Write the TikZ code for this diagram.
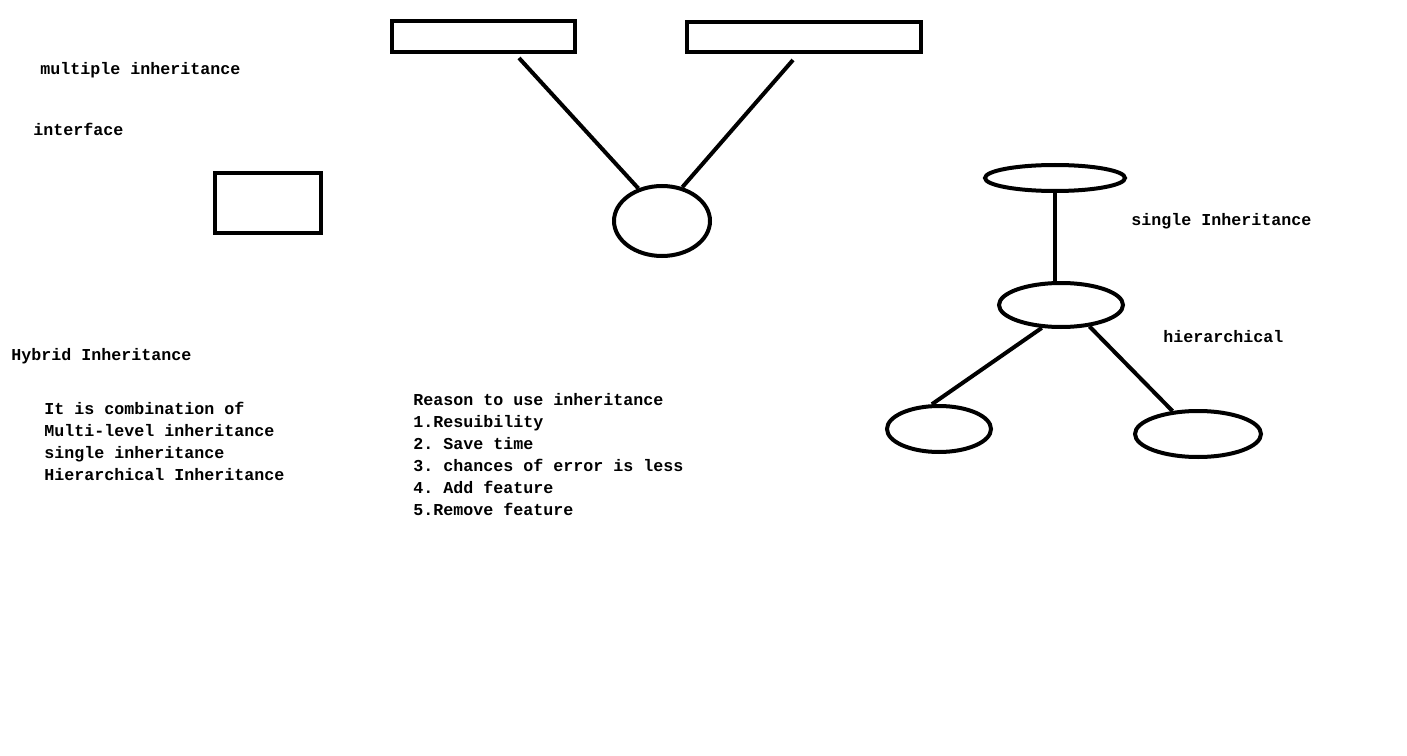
\documentclass[tikz,border=0pt]{standalone}
\usepackage{fontspec}
\setmonofont{Liberation Mono}
\usetikzlibrary{shapes.geometric}
\tikzset{
  shape line/.style={line width=3pt},
  box/.style={draw, shape line, rectangle, inner sep=0pt},
  oval/.style={draw, shape line, ellipse, inner sep=0pt},
  conn/.style={line width=3pt},
  label text/.style={anchor=base west, inner sep=0pt, font=\ttfamily\bfseries\fontsize{12.5}{16.5}\selectfont},
}
\begin{document}
\begin{tikzpicture}[x=0.75pt,y=-0.75pt]
\useasboundingbox[fill=white] (0,0) rectangle (1407,756);
% rectangles
\node[box, minimum width=183*0.75pt, minimum height=31*0.75pt] (r1) at (483.5,36.5) {};
\node[box, minimum width=234*0.75pt, minimum height=30*0.75pt] (r2) at (804,37) {};
\node[box, minimum width=106*0.75pt, minimum height=60*0.75pt] (r3) at (268,203) {};
% ellipses
\node[oval, minimum width=96*0.75pt, minimum height=70*0.75pt] (e1) at (662,221) {};
\node[oval, minimum width=140*0.75pt, minimum height=26*0.75pt] (t) at (1055,178) {};
\node[oval, minimum width=124*0.75pt, minimum height=44*0.75pt] (m) at (1061,305) {};
\node[oval, minimum width=104*0.75pt, minimum height=46*0.75pt] (bl) at (939,429) {};
\node[oval, minimum width=126*0.75pt, minimum height=46*0.75pt] (br) at (1198,434) {};
% connector ends
\coordinate (r1end) at (519,58);
\coordinate (r2end) at (793,60);
\draw[conn] (r1end) -- (e1.126);
\draw[conn] (r2end) -- (e1.59);
\draw[conn] (t.south) -- (t.south |- m.north);
\draw[conn] (m.-130) -- (bl.106);
\draw[conn] (m.-37) -- (br.138);
% texts
\node[label text] (t1) at (40,75) {multiple inheritance};
\node[label text] (t2) at (33,136) {interface};
\node[label text] (t3) at (1131,225) {single Inheritance};
\node[label text] (t4) at (1163,342) {hierarchical};
\node[label text] (t5) at (11,360) {Hybrid Inheritance};
\node[label text] (h1) at (44,414) {It is combination of};
\node[label text] (h2) at (44,436) {Multi-level inheritance};
\node[label text] (h3) at (44,458) {single inheritance};
\node[label text] (h4) at (44,480) {Hierarchical Inheritance};
\node[label text] (q0) at (413,405) {Reason to use inheritance};
\node[label text] (q1) at (413,427) {1.Resuibility};
\node[label text] (q2) at (413,449) {2. Save time};
\node[label text] (q3) at (413,471) {3. chances of error is less};
\node[label text] (q4) at (413,493) {4. Add feature};
\node[label text] (q5) at (413,515) {5.Remove feature};
\end{tikzpicture}
\end{document}
